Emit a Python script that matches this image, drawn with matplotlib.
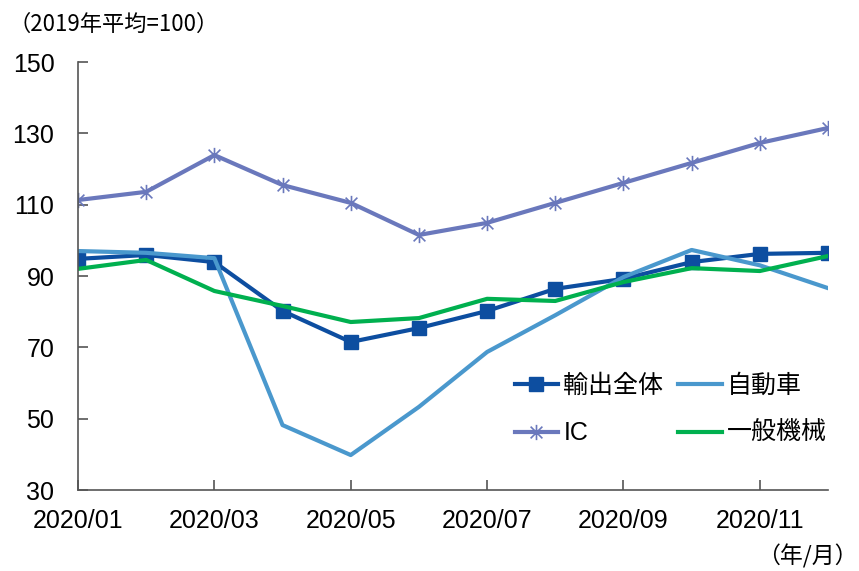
import matplotlib.pyplot as plt
from matplotlib.path import Path
import numpy as np

plt.rcParams['font.family'] = ['Liberation Sans', 'Noto Sans CJK JP', 'DejaVu Sans']

months = ["2020/01", "2020/02", "2020/03", "2020/04", "2020/05", "2020/06",
          "2020/07", "2020/08", "2020/09", "2020/10", "2020/11", "2020/12"]
exports_total = [94.8, 95.9, 93.9, 80.2, 71.5, 75.4, 80.2, 86.4, 89.2, 93.9, 96.2, 96.5]
autos = [97.0, 96.5, 95.0, 48.2, 39.8, 53.3, 68.7, 79.0, 89.7, 97.3, 93.0, 86.6]
ic = [111.3, 113.6, 123.9, 115.5, 110.5, 101.5, 104.9, 110.5, 116.1, 121.7, 127.3, 131.5]
machinery = [92.0, 94.5, 85.8, 81.6, 77.1, 78.2, 83.6, 83.0, 88.3, 92.2, 91.4, 95.6]

# asterisk marker: an x with a vertical bar through it
star = Path([(-1, -1), (1, 1), (-1, 1), (1, -1), (0, -1.3), (0, 1.3)],
            [Path.MOVETO, Path.LINETO, Path.MOVETO, Path.LINETO, Path.MOVETO, Path.LINETO])

fig = plt.figure(figsize=(8.59, 5.71), dpi=100)
ax = fig.add_axes([78 / 859, 1 - 490 / 571, 750 / 859, 428 / 571])

x = np.arange(len(months))
l1, = ax.plot(x, exports_total, color="#0D4EA0", lw=3, marker="s", ms=9.5, label="輸出全体")
l2, = ax.plot(x, autos, color="#4A98CD", lw=3, label="自動車")
l3, = ax.plot(x, ic, color="#6A78BC", lw=3, marker=star, ms=11, mew=1.2,
              mfc="none", mec="#6A78BC", label="IC")
l4, = ax.plot(x, machinery, color="#00B04F", lw=3, label="一般機械")

ax.set_xlim(0, 11)
ax.set_ylim(30, 150)
ax.set_yticks(range(30, 151, 20))
ax.set_xticks(x[::2])
ax.set_xticklabels(months[::2])

for s in ["top", "right"]:
    ax.spines[s].set_visible(False)
for s in ["left", "bottom"]:
    ax.spines[s].set_color("#555555")
    ax.spines[s].set_linewidth(1.2)
ax.tick_params(axis="both", direction="in", length=7, width=1.2, color="#555555",
               labelsize=18, labelcolor="black")
ax.tick_params(axis="x", pad=14)
ax.tick_params(axis="y", pad=17)

leg = fig.legend([l1, l3, l2, l4], ["輸出全体", "IC", "自動車", "一般機械"],
                 ncol=2, frameon=False, loc="upper left",
                 bbox_to_anchor=(502 / 859, 1 - 361 / 571),
                 fontsize=18, handlelength=1.75, handletextpad=0.2, borderpad=0,
                 columnspacing=0.6, labelspacing=0.95)

fig.text(8 / 859, 1 - 24 / 571, "（2019年平均=100）", fontsize=16, va="center",
         family=["Noto Sans CJK JP", "DejaVu Sans"])
fig.text(858 / 859, 1 - 556 / 571, "（年/月）", fontsize=16.5, va="center", ha="right",
         family=["Noto Sans CJK JP", "DejaVu Sans"])

fig.savefig("out.png", dpi=100)
